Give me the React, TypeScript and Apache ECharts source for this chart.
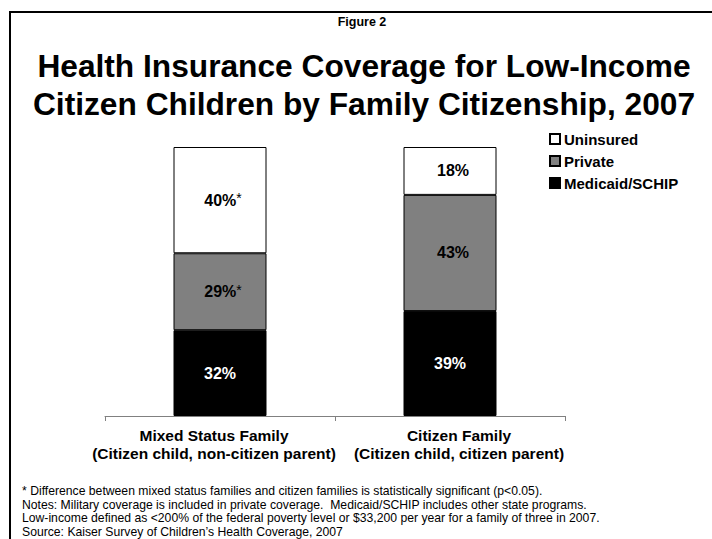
import React, { useEffect, useRef } from "react";
import * as echarts from "echarts";

const categories = [
  "Mixed Status Family\n(Citizen child, non-citizen parent)",
  "Citizen Family\n(Citizen child, citizen parent)",
];
const medicaidValues = [31.9, 39.0];
const privateValues = [28.6, 43.2];
const uninsuredValues = [39.5, 17.8];
const privateSignificant = [true, false];
const uninsuredSignificant = [true, false];
const legendNames = ["Uninsured", "Private", "Medicaid/SCHIP"];

const figureLabel = "Figure 2";
const titleLines = [
  "Health Insurance Coverage for Low-Income",
  "Citizen Children by Family Citizenship, 2007",
];
const footnotes = [
  "* Difference between mixed status families and citizen families is statistically significant (p<0.05).",
  "Notes: Military coverage is included in private coverage.  Medicaid/SCHIP includes other state programs.",
  "Low-income defined as <200% of the federal poverty level or $33,200 per year for a family of three in 2007.",
  "Source: Kaiser Survey of Children\u2019s Health Coverage, 2007",
];

const FONT = '"Liberation Sans", Arial, Helvetica, sans-serif';

function makeLabel(color: string, sig?: boolean[]) {
  return {
    show: true,
    position: "inside",
    fontFamily: FONT,
    formatter: (p: any) => {
      const v = Math.round(p.value) + "%";
      if (sig && sig[p.dataIndex]) return `{v|${v}}{s|*}`;
      return `{v|${v}}`;
    },
    rich: {
      v: { fontSize: 16, fontWeight: "bold", color, fontFamily: FONT, lineHeight: 18 },
      s: {
        fontSize: 14,
        fontWeight: "normal",
        color,
        fontFamily: FONT,
        verticalAlign: "top",
        lineHeight: 18,
        padding: [0, 0, 6, 0],
      },
    },
  };
}

const axisTok = {
  fontFamily: FONT,
  fontSize: 15.5,
  fontWeight: "bold",
  color: "#000",
  lineHeight: 18,
};

export default function App() {
  const ref = useRef<HTMLDivElement>(null);
  useEffect(() => {
    if (!ref.current) return;
    const chart = echarts.init(ref.current, undefined, { renderer: "svg" });
    const itemBase = { borderColor: "#000", borderWidth: 1 };
    chart.setOption({
      animation: false,
      backgroundColor: "#fff",
      textStyle: { fontFamily: FONT },
      grid: { left: 105, right: 147, top: 147, bottom: 123 },
      legend: {
        orient: "vertical",
        left: 549,
        top: 131,
        padding: 0,
        itemWidth: 10,
        itemHeight: 10,
        itemGap: 6,
        icon: "rect",
        data: legendNames,
        textStyle: {
          fontFamily: FONT,
          fontSize: 15,
          fontWeight: "bold",
          color: "#000",
          lineHeight: 16,
          padding: [0, 0, 0, -1],
        },
      },
      xAxis: {
        type: "category",
        data: categories,
        axisLine: { lineStyle: { color: "#808080", width: 1 } },
        axisTick: { show: true, length: 5, lineStyle: { color: "#808080" } },
        axisLabel: {
          ...axisTok,
          margin: 10,
          interval: 0,
          formatter: (value: string, index: number) =>
            value
              .split("\n")
              .map((l) => `{c${index}|${l}}`)
              .join("\n"),
          rich: {
            c0: { ...axisTok, padding: [0, 12, 0, 0] },
            c1: { ...axisTok, padding: [0, 0, 0, 18] },
          },
        },
      },
      yAxis: {
        type: "value",
        min: 0,
        max: 100,
        show: false,
        splitLine: { show: false },
      },
      series: [
        {
          name: "Medicaid/SCHIP",
          type: "bar",
          stack: "total",
          barWidth: 93,
          data: medicaidValues,
          itemStyle: { ...itemBase, color: "#000" },
          label: makeLabel("#fff"),
        },
        {
          name: "Private",
          type: "bar",
          stack: "total",
          barWidth: 93,
          data: privateValues,
          itemStyle: { ...itemBase, color: "#808080" },
          label: { ...makeLabel("#000", privateSignificant), offset: [3, 0] },
        },
        {
          name: "Uninsured",
          type: "bar",
          stack: "total",
          barWidth: 93,
          data: uninsuredValues,
          itemStyle: { ...itemBase, color: "#fff" },
          label: { ...makeLabel("#000", uninsuredSignificant), offset: [3, 0] },
        },
      ],
      graphic: [
        {
          type: "rect",
          shape: { x: 10, y: 12, width: 730, height: 560 },
          style: { fill: "none", stroke: "#000", lineWidth: 2 },
          silent: true,
        },
        {
          type: "text",
          x: 362,
          y: 22,
          style: {
            text: figureLabel,
            font: `bold 12.5px ${FONT}`,
            fill: "#000",
            align: "center",
            verticalAlign: "middle",
          },
        },
        ...titleLines.map((t, i) => ({
          type: "text",
          x: 364,
          y: 66 + i * 38,
          style: {
            text: t,
            font: `bold 31.7px ${FONT}`,
            fill: "#000",
            align: "center",
            verticalAlign: "middle",
          },
        })),
        ...footnotes.map((t, i) => ({
          type: "text",
          x: 22,
          y: 491 + i * 13.6,
          style: {
            text: t,
            font: `12.2px ${FONT}`,
            fill: "#000",
            align: "left",
            verticalAlign: "middle",
          },
        })),
      ],
    });
    return () => chart.dispose();
  }, []);
  return (
    <div
      ref={ref}
      style={{ position: "absolute", left: 0, top: 0, width: 712, height: 539 }}
    />
  );
}
